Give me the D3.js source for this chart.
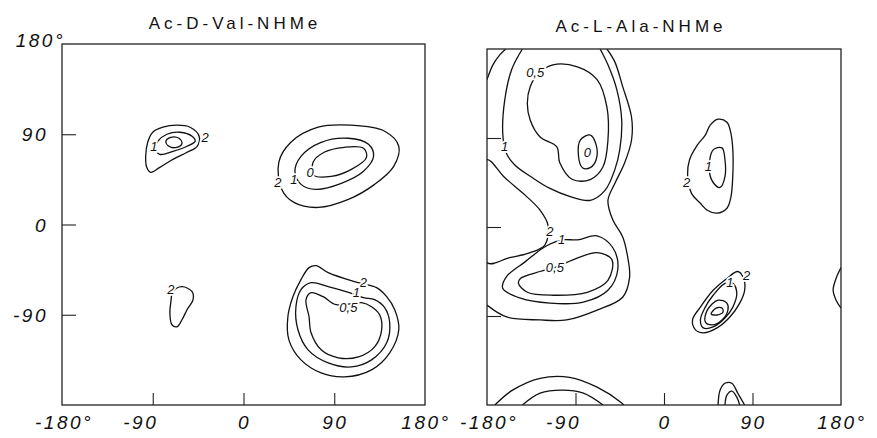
<!DOCTYPE html>
<html>
<head>
<meta charset="utf-8">
<script src="https://d3js.org/d3.v7.min.js"></script>
<style>
	body{ margin:0; background:#ffffff; }
	text{ font-family:"Liberation Sans", Arial, sans-serif; fill:#111; }
</style>
</head>
<body>
<div id="chart"></div>
<script>
// ---- data (phi, psi in degrees) ----
var titles = ["Ac-D-Val-NHMe", "Ac-L-Ala-NHMe"];
var innerTicks = [-90, 0, 90];
var xTickValues = [-180, -90, 0, 90, 180];
var xTickLabels = ["-180°", "-90", "0", "90", "180°"];
var yTickValues = [-90, 0, 90, 180];
var yTickLabels = ["-90", "0", "90", "180°"];

// Ac-D-Val-NHMe
var valIsland2 = [[-44,88],[-53,97],[-66,99],[-80,97],[-90,92],[-95,82],[-97,68],[-96,57],[-92,52],[-83,57],[-70,65],[-56,72],[-46,78]];
var valIsland1 = [[-85,83],[-76,90],[-63,92],[-51,88],[-48,83],[-56,78],[-70,73],[-83,70],[-88,76]];
var valIsland0 = [[-77,83],[-72,87],[-64,86],[-61,81],[-66,77],[-74,78]];
var valUpper2 = [[35,62],[47,82],[74,97],[107,99],[140,93],[154,78],[149,58],[130,40],[104,25],[74,17],[50,22],[38,35]];
var valUpper1 = [[57,68],[77,82],[104,86],[124,80],[129,68],[119,53],[97,41],[72,35],[57,40],[51,53]];
var valUpper0 = [[69,62],[80,72],[100,77],[119,76],[122,67],[107,55],[87,48],[70,49]];
var valSmall2 = [[-61,-62],[-51,-67],[-50,-75],[-56,-85],[-61,-95],[-66,-102],[-71,-100],[-73,-88],[-72,-77],[-70,-67]];
var valLower2 = [[110,-57],[84,-48],[72,-41],[65,-43],[57,-55],[49,-72],[44,-92],[45,-115],[57,-135],[77,-148],[100,-152],[127,-145],[145,-128],[154,-105],[150,-85],[142,-72],[132,-63]];
var valLower1 = [[105,-68],[84,-62],[67,-58],[57,-65],[52,-82],[54,-105],[64,-125],[84,-138],[107,-142],[127,-135],[142,-118],[145,-98],[140,-83],[130,-75],[119,-73]];
var valLower05 = [[92,-80],[79,-72],[67,-68],[62,-75],[65,-92],[67,-108],[77,-125],[94,-133],[114,-132],[130,-122],[137,-105],[135,-90],[127,-82],[117,-78]];
var valLabels = [["1",-89,78],["2",-38,87],["2",34,42],["1",50,45],["0",66,52],["2",-72,-65],["2",119,-58],["1",112,-68],["0,5",104,-83]];

// Ac-L-Ala-NHMe
var alaCorner = [[-180,149],[-174,164],[-167,174],[-161,180]];
var alaBeta1 = [[-144,180],[-155,159],[-162,128],[-164,95],[-161,76],[-152,63],[-134,50],[-116,39],[-96,31],[-75,27],[-60,37],[-50,58],[-45,78],[-43,108],[-48,139],[-57,164],[-65,180]];
var alaBeta05 = [[-113,164],[-88,162],[-68,149],[-58,121],[-57,88],[-62,61],[-75,48],[-93,48],[-106,65],[-109,81],[-126,91],[-136,108],[-139,125],[-136,142],[-128,155]];
var alaBeta0 = [[-85,88],[-75,93],[-69,83],[-69,68],[-75,60],[-83,60],[-87,72]];
var alaOuter2 = [[-58,180],[-50,167],[-42,142],[-33,111],[-33,88],[-40,65],[-50,44],[-57,27],[-52,7],[-42,-10],[-37,-30],[-35,-51],[-42,-71],[-68,-84],[-99,-94],[-126,-94],[-160,-91],[-180,-79]];
var alaWedge2 = [[-180,68],[-162,50],[-141,32],[-126,17],[-118,2],[-121,-18],[-136,-26],[-157,-31],[-180,-36]];
var alaAlpha1 = [[-88,-13],[-68,-9],[-52,-21],[-47,-43],[-57,-64],[-82,-76],[-116,-77],[-146,-72],[-164,-62],[-160,-50],[-141,-35],[-121,-20],[-104,-13]];
var alaAlpha05 = [[-146,-52],[-126,-45],[-111,-41],[-92,-33],[-68,-26],[-53,-33],[-57,-54],[-78,-66],[-113,-69],[-139,-66],[-148,-57]];
var alaMid2 = [[24,53],[26,68],[34,83],[42,93],[47,103],[55,109],[64,106],[68,95],[70,78],[70,53],[68,30],[64,19],[54,14],[44,17],[37,24],[28,34]];
var alaMid1 = [[50,78],[59,80],[62,68],[62,51],[57,40],[50,45],[46,58]];
var alaLeft2 = [[75,-45],[64,-52],[50,-64],[37,-81],[29,-94],[32,-104],[40,-107],[54,-102],[67,-91],[77,-77],[82,-64],[81,-52]];
var alaLeft1 = [[62,-57],[50,-69],[42,-81],[37,-94],[40,-102],[50,-101],[62,-92],[70,-81],[74,-67],[70,-57]];
var alaLeftB = [[55,-74],[44,-84],[42,-96],[49,-99],[59,-94],[65,-84],[64,-77]];
var alaLeftC = [[48,-88],[53,-82],[59,-82],[60,-86],[54,-89]];
var alaEdge = [[180,-41],[175,-52],[172,-64],[175,-74],[180,-82]];
var alaBottomOuter = [[-172,-180],[-154,-165],[-126,-153],[-96,-152],[-68,-162],[-43,-178],[-41,-180]];
var alaBottomInner = [[-144,-180],[-126,-168],[-103,-165],[-82,-168],[-62,-180]];
var alaFoot2 = [[55,-180],[57,-165],[62,-158],[69,-158],[75,-168],[82,-180]];
var alaFoot1 = [[62,-180],[64,-170],[69,-166],[74,-172],[77,-180]];
var alaLabels = [["0,5",-131,156],["1",-162,81],["0",-78,75],["2",-116,-5],["1",-104,-13],["0,5",-111,-41],["2",23,45],["1",45,61],["2",84,-49],["1",67,-56]];

// ---- panels ----
var panels = [
	{ title:titles[0], left:62, right:425, top:44, bottom:405, titleX:235, titleY:29, yLabels:true,
	  closed:[valIsland2,valIsland1,valIsland0,valUpper2,valUpper1,valUpper0,valSmall2,valLower2,valLower1,valLower05],
	  open:[], labels:valLabels },
	{ title:titles[1], left:487, right:841, top:49, bottom:405, titleX:641, titleY:32, yLabels:false,
	  closed:[alaBeta05,alaBeta0,alaWedge2,alaAlpha1,alaAlpha05,alaMid2,alaMid1,alaLeft2,alaLeft1,alaLeftB,alaLeftC],
	  open:[alaCorner,alaBeta1,alaOuter2,alaEdge,alaBottomOuter,alaBottomInner,alaFoot2,alaFoot1], labels:alaLabels }
];

var svg = d3.select("#chart").append("svg").attr("width",877).attr("height",438);

buildPanel = function(p,i){
	var x = d3.scaleLinear().domain([-180,180]).range([p.left,p.right]);
	var y = d3.scaleLinear().domain([-180,180]).range([p.bottom,p.top]);
	var g = svg.append("g");

	g.append("clipPath").attr("id","clip" + i)
		.append("rect").attr("x",p.left).attr("y",p.top)
		.attr("width",p.right - p.left).attr("height",p.bottom - p.top);

	var cg = g.append("g").attr("clip-path","url(#clip" + i + ")");
	var closedLine = d3.line().x(d => x(d[0])).y(d => y(d[1])).curve(d3.curveCatmullRomClosed.alpha(0.5));
	var openLine = d3.line().x(d => x(d[0])).y(d => y(d[1])).curve(d3.curveCatmullRom.alpha(0.5));

	cg.selectAll("path.closed").data(p.closed).enter().append("path")
		.attr("class","closed").attr("d",closedLine)
		.attr("fill","none").attr("stroke","#111").attr("stroke-width",1.3);
	cg.selectAll("path.open").data(p.open).enter().append("path")
		.attr("class","open").attr("d",openLine)
		.attr("fill","none").attr("stroke","#111").attr("stroke-width",1.3);

	// contour labels, white halo cuts the line behind them
	cg.selectAll("text.lab").data(p.labels).enter().append("text")
		.attr("class","lab")
		.attr("x",d => x(d[1])).attr("y",d => y(d[2]) + 4.5)
		.attr("text-anchor","middle")
		.style("font-size","13px").style("font-style","italic")
		.style("paint-order","stroke").attr("stroke","#fff").attr("stroke-width",3.5)
		.text(d => d[0]);

	// frame
	g.append("rect").attr("x",p.left).attr("y",p.top)
		.attr("width",p.right - p.left).attr("height",p.bottom - p.top)
		.attr("fill","none").attr("stroke","#222").attr("stroke-width",1.3);

	// inward ticks
	var bx = g.append("g").attr("transform","translate(0," + p.bottom + ")")
		.call(d3.axisBottom(x).tickValues(innerTicks).tickSize(-12).tickFormat(""));
	var ly = g.append("g").attr("transform","translate(" + p.left + ",0)")
		.call(d3.axisLeft(y).tickValues(innerTicks).tickSize(-14).tickFormat(""));
	[bx,ly].forEach(function(a){
		a.select(".domain").remove();
		a.selectAll("line").attr("stroke","#222").attr("stroke-width",1.1);
	});

	// tick labels (the minus sign hangs to the left of the tick)
	g.selectAll("text.xl").data(xTickValues).enter().append("text")
		.attr("class","xl")
		.attr("x",d => d == -180 ? x(d) - 27 : (d < 0 ? x(d) - 12 : x(d) + 1))
		.attr("y",p.bottom + 24)
		.attr("text-anchor",d => d == -180 ? "start" : "middle")
		.style("font-size","19px").style("font-style","italic").style("letter-spacing","2.5px")
		.text((d,k) => xTickLabels[k]);

	if(p.yLabels){
		g.selectAll("text.yl").data(yTickValues).enter().append("text")
			.attr("class","yl")
			.attr("x",d => d == 180 ? p.left + 3 : p.left - 14)
			.attr("y",d => d == 180 ? y(d) + 3 : y(d) + 7)
			.attr("text-anchor","end")
			.style("font-size","19px").style("font-style","italic").style("letter-spacing","2.5px")
			.text((d,k) => yTickLabels[k]);
	}

	// title
	g.append("text").attr("x",p.titleX).attr("y",p.titleY)
		.attr("text-anchor","middle")
		.style("font-size","17px").style("letter-spacing","4px")
		.text(p.title);
}

panels.forEach(buildPanel);
</script>
</body>
</html>
